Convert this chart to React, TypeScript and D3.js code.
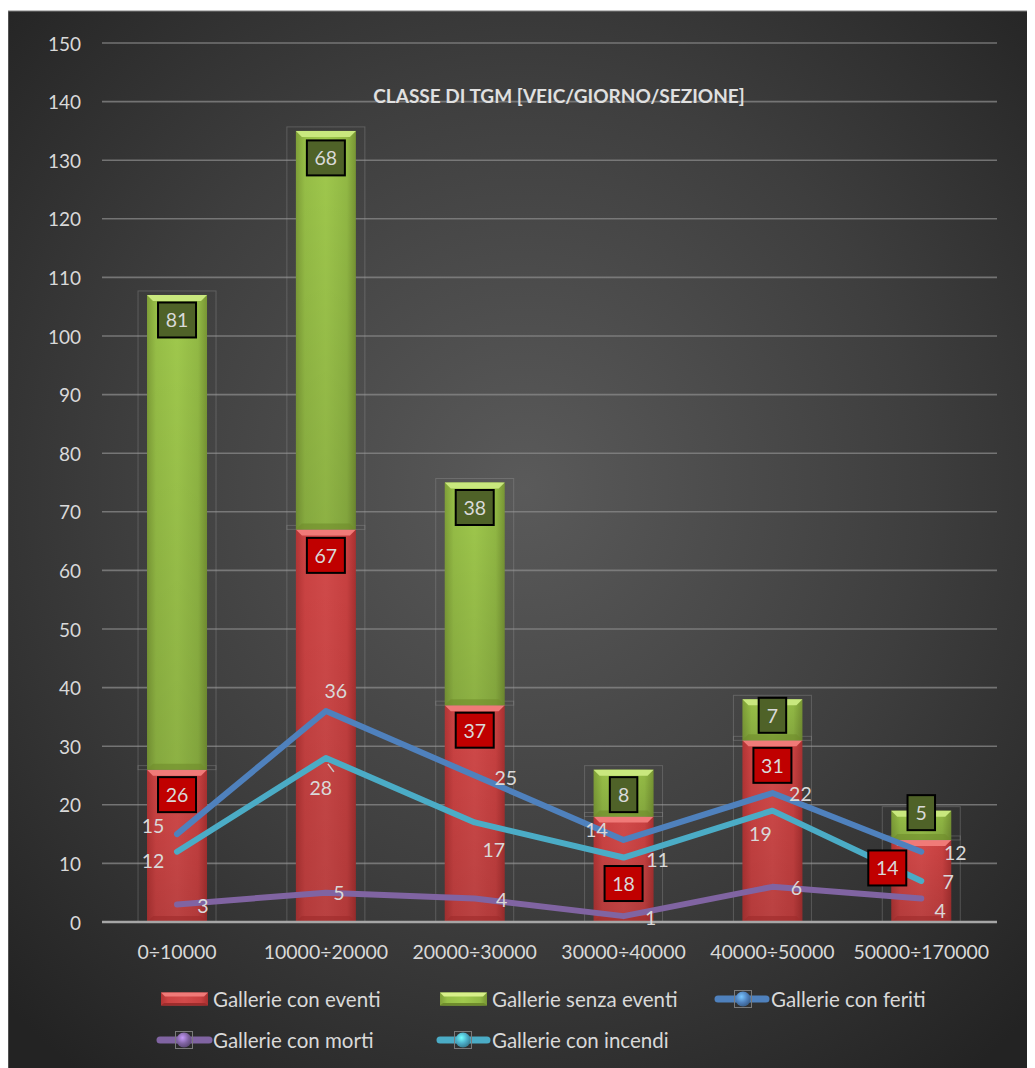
import React from 'react'
import * as d3 from 'd3'

// data
const categories = ['0÷10000', '10000÷20000', '20000÷30000', '30000÷40000', '40000÷50000', '50000÷170000']
const gallerieConEventi = [26, 67, 37, 18, 31, 14]
const gallerieSenzaEventi = [81, 68, 38, 8, 7, 5]
const gallerieConFeriti = [15, 36, 25, 14, 22, 12]
const gallerieConMorti = [3, 5, 4, 1, 6, 4]
const gallerieConIncendi = [12, 28, 17, 11, 19, 7]
const yTicks = [0, 10, 20, 30, 40, 50, 60, 70, 80, 90, 100, 110, 120, 130, 140, 150]
const title = 'CLASSE DI TGM [VEIC/GIORNO/SEZIONE]'

const W = 1027
const H = 1060
const FONT = 'Lato, "Open Sans", sans-serif'
const TXT = '#d9d9d9'

// manual label placements (pixels), like the hand-moved labels in the original
const redLabelNudge = [[0, 25], [0, 26], [0, 25], [0, 67], [0, 25], [-34, 28]]
const greenLabelNudge = [[0, 25], [0, 27], [0, 25], [0, 25], [0, 16], [0, 2]]
const feritiNudge = [[-24, -9], [10, -21], [31, 2], [-27, -10], [28, 0], [34, 1]]
const incendiNudge = [[-24, 9], [-5, 30], [19, 27], [34, 2], [-12, 23], [27, 1]]
const mortiNudge = [[26, 1], [13, 0], [27, 1], [27, 1], [24, 1], [19, 12]]

const lineSeries = [
  { name: 'Gallerie con feriti', values: gallerieConFeriti, color: '#4f81bd', nudge: feritiNudge },
  { name: 'Gallerie con incendi', values: gallerieConIncendi, color: '#4bacc6', nudge: incendiNudge },
  { name: 'Gallerie con morti', values: gallerieConMorti, color: '#8064a2', nudge: mortiNudge },
]

const x = d3.scaleBand<string>().domain(categories).range([94.6, 987.7]).padding(0)
const y = d3.scaleLinear().domain([0, 150]).range([914, 35])
const barW = x.bandwidth() * 0.403
const cx = (c: string) => (x(c) || 0) + x.bandwidth() / 2

function Bar({ c, v0, v1, kind }: { c: string; v0: number; v1: number; kind: 'red' | 'green' }) {
  const x0 = cx(c) - barW / 2
  const top = y(v1)
  const bot = y(v0)
  const h = bot - top
  const b = Math.min(6, h / 3)
  const bevel = kind === 'red' ? '#f07a78' : '#c9e87e'
  const shade = kind === 'red' ? '#9e2c2c' : '#6f8c2c'
  return (
    <g>
      <rect x={x0 - 9} y={top - 4} width={barW + 18} height={h + 4} fill="none" stroke="#9a9a9a" strokeOpacity={0.35} strokeWidth={1} />
      <rect x={x0} y={top} width={barW} height={h} fill={`url(#body-${kind})`} />
      <rect x={x0} y={top} width={barW} height={h} fill="url(#vshade)" />
      <polygon points={`${x0},${top} ${x0 + barW},${top} ${x0 + barW - b},${top + b} ${x0 + b},${top + b}`} fill={bevel} />
      <polygon points={`${x0},${bot} ${x0 + barW},${bot} ${x0 + barW - b},${bot - b} ${x0 + b},${bot - b}`} fill={shade} opacity={0.6} />
    </g>
  )
}

function BoxLabel({ px, py, value, fill }: { px: number; py: number; value: number; fill: string }) {
  const w = String(value).length * 10.5 + 17
  const h = 35
  return (
    <g>
      <rect x={px - w / 2} y={py - h / 2} width={w} height={h} fill={fill} stroke="#000" strokeWidth={2} />
      <text x={px} y={py} textAnchor="middle" dominantBaseline="central" fontSize={19.5} fill={TXT} fontFamily={FONT}>
        {value}
      </text>
    </g>
  )
}

function Sphere({ px, py, id }: { px: number; py: number; id: string }) {
  return (
    <g>
      <rect x={px - 8.5} y={py - 8.5} width={17} height={17} fill="none" stroke="#7a7a7a" strokeWidth={1} />
      <circle cx={px} cy={py} r={7.5} fill={`url(#sph-${id})`} />
    </g>
  )
}

function Swatch({ px, py, kind }: { px: number; py: number; kind: 'red' | 'green' }) {
  const bevel = kind === 'red' ? '#f07a78' : '#d8f08a'
  const shade = kind === 'red' ? '#9e2c2c' : '#6f8c2c'
  return (
    <g>
      <rect x={px} y={py - 6.5} width={47} height={13} fill={`url(#body-${kind})`} />
      <polygon points={`${px},${py - 6.5} ${px + 47},${py - 6.5} ${px + 43},${py - 2.5} ${px + 4},${py - 2.5}`} fill={bevel} />
      <polygon points={`${px},${py + 6.5} ${px + 47},${py + 6.5} ${px + 44},${py + 4} ${px + 3},${py + 4}`} fill={shade} />
    </g>
  )
}

export default function App() {
  const lineGen = d3
    .line<number>()
    .x((_, i) => cx(categories[i]))
    .y((d) => y(d))

  const row1 = 991
  const row2 = 1032

  return (
    <svg width={W} height={H} style={{ display: 'block' }} fontFamily={FONT}>
      <defs>
        <radialGradient id="bg" cx="50%" cy="45%" r="70%">
          <stop offset="0%" stopColor="#5a5a5a" />
          <stop offset="55%" stopColor="#3e3e3e" />
          <stop offset="100%" stopColor="#232323" />
        </radialGradient>
        <linearGradient id="body-red" x1="0" x2="1" y1="0" y2="0">
          <stop offset="0%" stopColor="#b23434" />
          <stop offset="15%" stopColor="#cc4343" />
          <stop offset="50%" stopColor="#d24a4a" />
          <stop offset="85%" stopColor="#c94141" />
          <stop offset="100%" stopColor="#a83030" />
        </linearGradient>
        <linearGradient id="body-green" x1="0" x2="1" y1="0" y2="0">
          <stop offset="0%" stopColor="#7f9f38" />
          <stop offset="15%" stopColor="#97bf47" />
          <stop offset="50%" stopColor="#a0c94d" />
          <stop offset="85%" stopColor="#93ba45" />
          <stop offset="100%" stopColor="#789634" />
        </linearGradient>
        <linearGradient id="vshade" x1="0" x2="0" y1="0" y2="1">
          <stop offset="0%" stopColor="#000" stopOpacity={0} />
          <stop offset="100%" stopColor="#000" stopOpacity={0.12} />
        </linearGradient>
        {[
          ['feriti', '#4f81bd'],
          ['incendi', '#4bacc6'],
          ['morti', '#8064a2'],
        ].map(([id, c]) => (
          <radialGradient key={id} id={`sph-${id}`} cx="40%" cy="35%" r="65%">
            <stop offset="0%" stopColor={d3.color(c)!.brighter(1.2).formatHex()} />
            <stop offset="60%" stopColor={c} />
            <stop offset="100%" stopColor={d3.color(c)!.darker(0.8).formatHex()} />
          </radialGradient>
        ))}
      </defs>

      <rect x={0} y={3} width={W + 5} height={H} fill="url(#bg)" stroke="#808080" strokeWidth={1} />

      {/* gridlines */}
      {yTicks
        .filter((t) => t > 0)
        .map((t) => (
          <line key={t} x1={94} x2={989} y1={y(t)} y2={y(t)} stroke="#8a8a8a" strokeOpacity={0.75} strokeWidth={1.6} />
        ))}

      {/* y tick labels */}
      {yTicks.map((t) => (
        <text key={t} x={73} y={y(t)} textAnchor="end" dominantBaseline="central" fontSize={19} fill={TXT}>
          {t}
        </text>
      ))}

      {/* stacked bars */}
      {categories.map((c, i) => (
        <g key={c}>
          <Bar c={c} v0={0} v1={gallerieConEventi[i]} kind="red" />
          <Bar c={c} v0={gallerieConEventi[i]} v1={gallerieConEventi[i] + gallerieSenzaEventi[i]} kind="green" />
        </g>
      ))}

      <line x1={94} x2={989} y1={y(0)} y2={y(0)} stroke="#a6a6a6" strokeWidth={2.5} />

      {/* x labels */}
      {categories.map((c) => (
        <text key={c} x={cx(c)} y={943} textAnchor="middle" dominantBaseline="central" fontSize={19.5} fill={TXT}>
          {c}
        </text>
      ))}

      {/* title */}
      <text x={551} y={87} textAnchor="middle" dominantBaseline="central" fontSize={19} fontWeight="bold" fill="#e0e0e0">
        {title}
      </text>

      {/* lines */}
      {lineSeries.map((s) => (
        <path key={s.name} d={lineGen(s.values) || ''} fill="none" stroke={s.color} strokeWidth={6} strokeLinecap="round" strokeLinejoin="round" />
      ))}

      {/* leader line for label 28 */}
      <line x1={cx(categories[1]) + 2} y1={y(gallerieConIncendi[1]) + 6} x2={cx(categories[1]) + 8} y2={y(gallerieConIncendi[1]) + 14} stroke="#c8c8c8" strokeWidth={1.5} />

      {/* line labels */}
      {lineSeries.map((s) =>
        s.values.map((v, i) => (
          <text
            key={s.name + i}
            x={cx(categories[i]) + s.nudge[i][0]}
            y={y(v) + s.nudge[i][1]}
            textAnchor="middle"
            dominantBaseline="central"
            fontSize={19.5}
            fill={TXT}
          >
            {v}
          </text>
        )),
      )}

      {/* bar labels */}
      {categories.map((c, i) => (
        <g key={'lbl' + c}>
          <BoxLabel
            px={cx(c) + redLabelNudge[i][0]}
            py={y(gallerieConEventi[i]) + redLabelNudge[i][1]}
            value={gallerieConEventi[i]}
            fill="#c00000"
          />
          <BoxLabel
            px={cx(c) + greenLabelNudge[i][0]}
            py={y(gallerieConEventi[i] + gallerieSenzaEventi[i]) + greenLabelNudge[i][1]}
            value={gallerieSenzaEventi[i]}
            fill="#4f6228"
          />
        </g>
      ))}

      {/* legend */}
      <g fontSize={20.5} fill={TXT}>
        <Swatch px={153} py={row1} kind="red" />
        <text x={205} y={row1} dominantBaseline="central">Gallerie con eventi</text>

        <Swatch px={432} py={row1} kind="green" />
        <text x={484} y={row1} dominantBaseline="central">Gallerie senza eventi</text>

        <line x1={710} x2={758} y1={row1} y2={row1} stroke="#4f81bd" strokeWidth={7} strokeLinecap="round" />
        <Sphere px={735} py={row1} id="feriti" />
        <text x={763} y={row1} dominantBaseline="central">Gallerie con feriti</text>

        <line x1={152} x2={201} y1={row2} y2={row2} stroke="#8064a2" strokeWidth={7} strokeLinecap="round" />
        <Sphere px={176} py={row2} id="morti" />
        <text x={205} y={row2} dominantBaseline="central">Gallerie con morti</text>

        <line x1={432} x2={479} y1={row2} y2={row2} stroke="#4bacc6" strokeWidth={7} strokeLinecap="round" />
        <Sphere px={455} py={row2} id="incendi" />
        <text x={484} y={row2} dominantBaseline="central">Gallerie con incendi</text>
      </g>
    </svg>
  )
}
